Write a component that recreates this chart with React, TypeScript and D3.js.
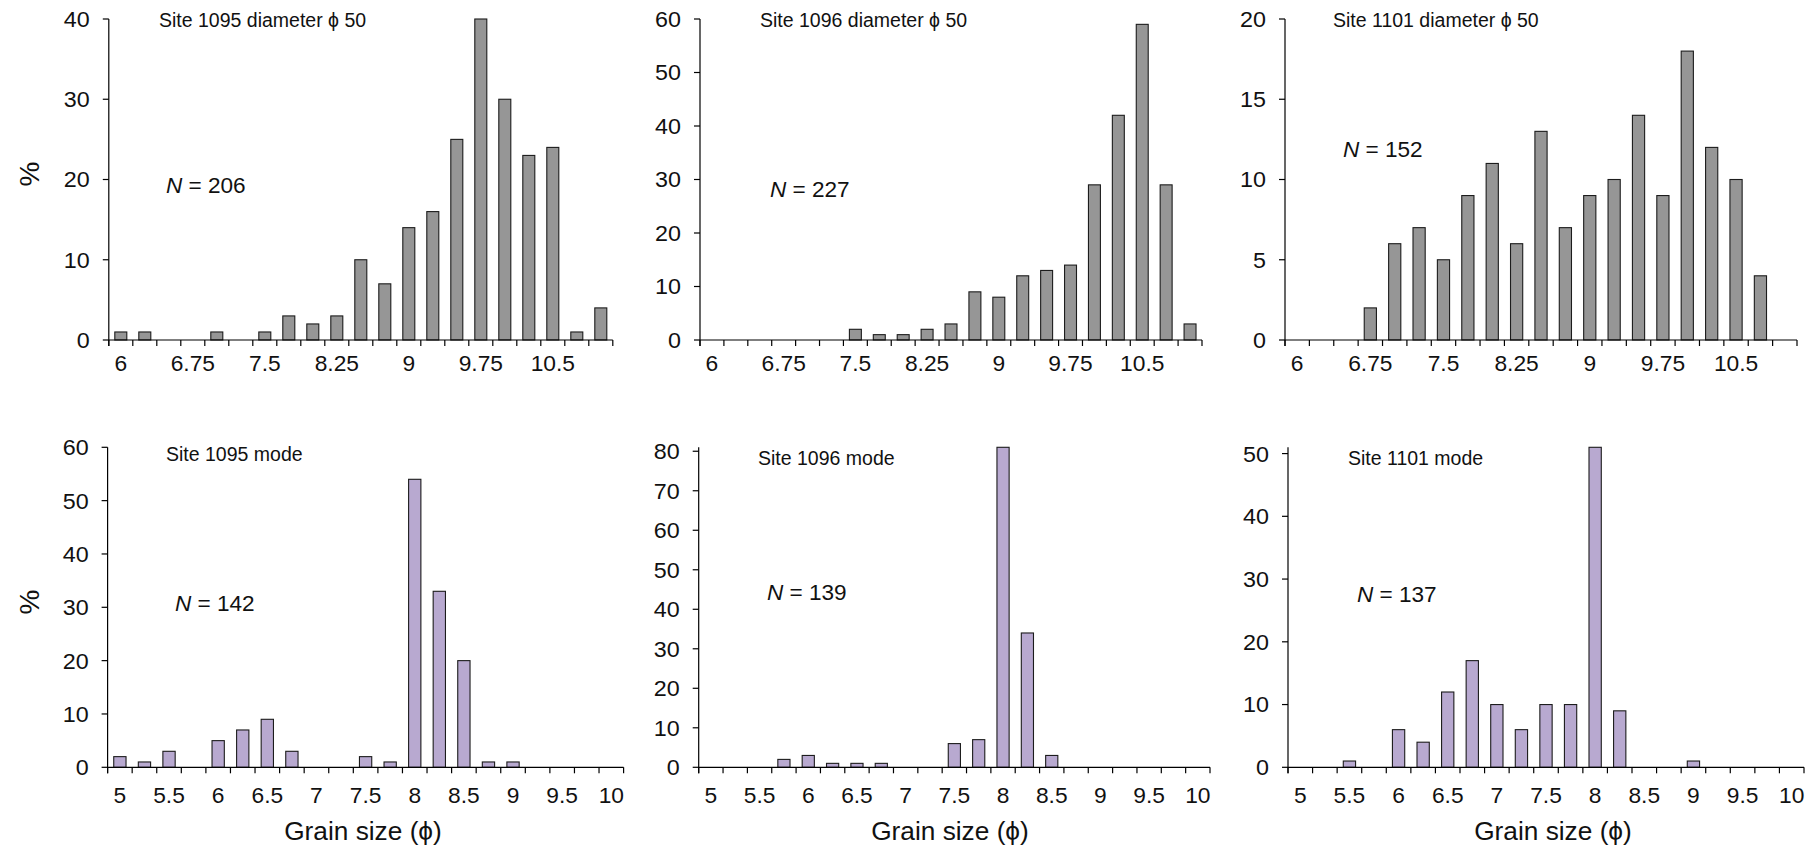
import React from "react";
import * as d3 from "d3";

// ---------- data ----------
const topCategories = [6, 6.25, 6.5, 6.75, 7, 7.25, 7.5, 7.75, 8, 8.25, 8.5, 8.75, 9, 9.25, 9.5, 9.75, 10, 10.25, 10.5, 10.75, 11];
const bottomCategories = [5, 5.25, 5.5, 5.75, 6, 6.25, 6.5, 6.75, 7, 7.25, 7.5, 7.75, 8, 8.25, 8.5, 8.75, 9, 9.25, 9.5, 9.75, 10];

const topTickLabels = ["6", "6.75", "7.5", "8.25", "9", "9.75", "10.5"];
const bottomTickLabels = ["5", "5.5", "6", "6.5", "7", "7.5", "8", "8.5", "9", "9.5", "10"];

const site1095Diameter = [1, 1, 0, 0, 1, 0, 1, 3, 2, 3, 10, 7, 14, 16, 25, 40, 30, 23, 24, 1, 4];
const site1096Diameter = [0, 0, 0, 0, 0, 0, 2, 1, 1, 2, 3, 9, 8, 12, 13, 14, 29, 42, 59, 29, 3];
const site1101Diameter = [0, 0, 0, 2, 6, 7, 5, 9, 11, 6, 13, 7, 9, 10, 14, 9, 18, 12, 10, 4, 0];

const site1095Mode = [2, 1, 3, 0, 5, 7, 9, 3, 0, 0, 2, 1, 54, 33, 20, 1, 1, 0, 0, 0, 0];
const site1096Mode = [0, 0, 0, 2, 3, 1, 1, 1, 0, 0, 6, 7, 81, 34, 3, 0, 0, 0, 0, 0, 0];
const site1101Mode = [0, 0, 1, 0, 6, 4, 12, 17, 10, 6, 10, 10, 51, 9, 0, 0, 1, 0, 0, 0, 0];

const panelTitles = [
  "Site 1095 diameter \u03D5 50",
  "Site 1096 diameter \u03D5 50",
  "Site 1101 diameter \u03D5 50",
  "Site 1095 mode",
  "Site 1096 mode",
  "Site 1101 mode",
];
const sampleCounts = [206, 227, 152, 142, 139, 137];

const yTicksTop = [
  [0, 10, 20, 30, 40],
  [0, 10, 20, 30, 40, 50, 60],
  [0, 5, 10, 15, 20],
];
const yTicksBottom = [
  [0, 10, 20, 30, 40, 50, 60],
  [0, 10, 20, 30, 40, 50, 60, 70, 80],
  [0, 10, 20, 30, 40, 50],
];
const yMaxTop = [40, 60, 20];
const yMaxBottom = [60, 81, 51];

// ---------- layout ----------
const FONT = "'Liberation Sans', Arial, Helvetica, sans-serif";
const GRAY = "#969696";
const PURPLE = "#b8a9d0";
const SX = 1.06; // horizontal stretch of glyphs seen in the reference

type STextProps = {
  x: number;
  y: number;
  size: number;
  anchor?: "start" | "middle" | "end";
  dy?: string;
  sx?: number;
  children: React.ReactNode;
};
function SText({ x, y, size, anchor = "start", dy, sx = SX, children }: STextProps) {
  return (
    <text
      transform={`translate(${x},${y}) scale(${sx},1)`}
      textAnchor={anchor}
      dy={dy}
      fontSize={size}
      fontFamily={FONT}
      fill="#111"
    >
      {children}
    </text>
  );
}

type PanelProps = {
  x0: number;
  x1: number;
  yTop: number;
  yBottom: number;
  categories: number[];
  values: number[];
  labelEvery: number;
  tickLabels: string[];
  labelGap: number;
  yMax: number;
  yTicks: number[];
  fill: string;
  title: string;
  titleX: number;
  titleY: number;
  n: number;
  nX: number;
  nY: number;
  xTitle?: string;
  xTitleX?: number;
  xTitleY?: number;
};

function Panel(p: PanelProps) {
  const x = d3
    .scaleBand<number>()
    .domain(p.categories)
    .range([p.x0, p.x1])
    .paddingInner(0.5)
    .paddingOuter(0.25);
  const step = x.step();
  const y = d3.scaleLinear().domain([0, p.yMax]).range([p.yBottom, p.yTop]);
  const boundaries = d3.range(p.categories.length + 1).map((i) => p.x0 + i * step);
  const labelIdx = p.categories.map((_, i) => i).filter((i) => i % p.labelEvery === 0);

  return (
    <g>
      {p.categories.map((c, i) =>
        p.values[i] > 0 ? (
          <rect
            key={c}
            x={x(c)!}
            y={y(p.values[i])}
            width={x.bandwidth()}
            height={p.yBottom - y(p.values[i])}
            fill={p.fill}
            stroke="#1c1c1c"
            strokeWidth={1.1}
          />
        ) : null
      )}
      <line x1={p.x0} x2={p.x0} y1={p.yTop} y2={p.yBottom + 6} stroke="#000" strokeWidth={1.2} />
      {p.yTicks.map((t) => (
        <g key={t}>
          <line x1={p.x0 - 6} x2={p.x0} y1={y(t)} y2={y(t)} stroke="#000" strokeWidth={1.2} />
          <SText x={p.x0 - 19} y={y(t)} dy="0.36em" anchor="end" size={22}>
            {t}
          </SText>
        </g>
      ))}
      <line x1={p.x0} x2={p.x1} y1={p.yBottom} y2={p.yBottom} stroke="#000" strokeWidth={1.2} />
      {boundaries.map((b, i) => (
        <line key={i} x1={b} x2={b} y1={p.yBottom} y2={p.yBottom + 6} stroke="#000" strokeWidth={1.2} />
      ))}
      {labelIdx.map((i, k) => (
        <SText
          key={i}
          x={x(p.categories[i])! + x.bandwidth() / 2}
          y={p.yBottom + p.labelGap}
          anchor="middle"
          size={21.5}
        >
          {p.tickLabels[k]}
        </SText>
      ))}
      <SText x={p.titleX} y={p.titleY} size={19.5} sx={1.0}>
        {p.title}
      </SText>
      <SText x={p.nX} y={p.nY} size={21.5} sx={1.05}>
        <tspan fontStyle="italic">N</tspan>
        <tspan> = {p.n}</tspan>
      </SText>
      {p.xTitle ? (
        <SText x={p.xTitleX!} y={p.xTitleY!} anchor="middle" size={25} sx={1.05}>
          {p.xTitle}
        </SText>
      ) : null}
    </g>
  );
}

export default function App() {
  const topY = [19, 340];
  const botY = [447.3, 767.3];
  const topX = [
    [108.8, 612.8],
    [700, 1202],
    [1285, 1797],
  ];
  const botX = [
    [107.6, 623.6],
    [698.7, 1210],
    [1288, 1804],
  ];
  const topSeries = [site1095Diameter, site1096Diameter, site1101Diameter];
  const botSeries = [site1095Mode, site1096Mode, site1101Mode];
  const topTitleX = [159, 760, 1333];
  const botTitleX = [166, 758, 1348];
  const topNX = [166, 770, 1343];
  const topNY = [193, 197, 157];
  const botNX = [175, 767, 1357];
  const botNY = [611, 600, 602];
  const grainX = [363, 950, 1553];

  return (
    <svg
      width={1820}
      height={849}
      style={{ position: "absolute", left: 0, top: 0, background: "#fff" }}
    >
      <rect x={0} y={0} width={1820} height={849} fill="#fff" />
      {topSeries.map((vals, i) => (
        <Panel
          key={"t" + i}
          x0={topX[i][0]}
          x1={topX[i][1]}
          yTop={topY[0]}
          yBottom={topY[1]}
          categories={topCategories}
          values={vals}
          labelEvery={3}
          tickLabels={topTickLabels}
          labelGap={31}
          yMax={yMaxTop[i]}
          yTicks={yTicksTop[i]}
          fill={GRAY}
          title={panelTitles[i]}
          titleX={topTitleX[i]}
          titleY={27}
          n={sampleCounts[i]}
          nX={topNX[i]}
          nY={topNY[i]}
        />
      ))}
      {botSeries.map((vals, i) => (
        <Panel
          key={"b" + i}
          x0={botX[i][0]}
          x1={botX[i][1]}
          yTop={botY[0]}
          yBottom={botY[1]}
          categories={bottomCategories}
          values={vals}
          labelEvery={2}
          tickLabels={bottomTickLabels}
          labelGap={36}
          yMax={yMaxBottom[i]}
          yTicks={yTicksBottom[i]}
          fill={PURPLE}
          title={panelTitles[3 + i]}
          titleX={botTitleX[i]}
          titleY={i === 0 ? 461 : 465}
          n={sampleCounts[3 + i]}
          nX={botNX[i]}
          nY={botNY[i]}
          xTitle={"Grain size (\u03D5)"}
          xTitleX={grainX[i]}
          xTitleY={840}
        />
      ))}
      <text
        transform="translate(39,174) rotate(-90)"
        textAnchor="middle"
        fontSize={28}
        fontFamily={FONT}
        fill="#111"
      >
        %
      </text>
      <text
        transform="translate(39,602) rotate(-90)"
        textAnchor="middle"
        fontSize={28}
        fontFamily={FONT}
        fill="#111"
      >
        %
      </text>
    </svg>
  );
}
